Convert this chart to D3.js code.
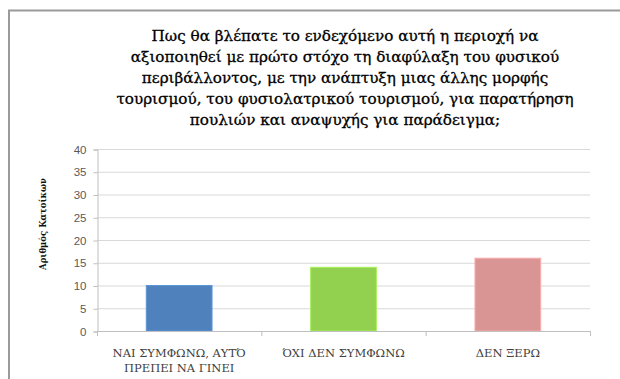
<!DOCTYPE html>
<html>
<head>
<meta charset="utf-8">
<script src="https://cdn.jsdelivr.net/npm/d3@7/dist/d3.min.js"></script>
<style>
  html, body { margin: 0; padding: 0; background: #fff; }
  svg { display: block; }
  .serif { font-family: "DejaVu Serif", serif; }
  .sans { font-family: "Liberation Sans", Arial, sans-serif; }
</style>
</head>
<body>
<svg id="chart" width="620" height="379"></svg>
<script>
// Survey answers: number of residents per response
const categories = [
  ["ΝΑΙ ΣΥΜΦΩΝΩ, ΑΥΤΌ", "ΠΡΕΠΕΙ ΝΑ ΓΙΝΕΙ"],
  ["ΌΧΙ ΔΕΝ ΣΥΜΦΩΝΩ"],
  ["ΔΕΝ ΞΕΡΩ"]
];
const values = [10, 14, 16];
const barColors = ["#4f81bd", "#92d050", "#d99594"];
const yTicks = [0, 5, 10, 15, 20, 25, 30, 35, 40];
const titleLines = [
  "Πως θα βλέπατε το ενδεχόμενο αυτή η περιοχή να",
  "αξιοποιηθεί με πρώτο στόχο τη διαφύλαξη του φυσικού",
  "περιβάλλοντος, με την ανάπτυξη μιας άλλης μορφής",
  "τουρισμού, του φυσιολατρικού τουρισμού, για παρατήρηση",
  "πουλιών και αναψυχής για παράδειγμα;"
];
const yTitle = "Αριθμός Κατοίκων";

const svg = d3.select("#chart");
const plot = { left: 97, right: 590, top: 149, bottom: 331 };

// Chart frame (only top and left edges fall inside the view)
svg.append("path")
  .attr("d", "M9,379 L9,10.5 L620,10.5")
  .attr("fill", "none")
  .attr("stroke", "#9a9a9a")
  .attr("stroke-width", 2);

const keys = categories.map((c, i) => i);
const x = d3.scaleBand()
  .domain(keys)
  .range([plot.left, plot.right])
  .paddingInner(0.6)
  .paddingOuter(0.3);
const y = d3.scaleLinear().domain([0, 40]).range([plot.bottom, plot.top]);

// Horizontal gridlines
svg.append("g")
  .selectAll("line")
  .data(yTicks.filter(d => d > 0))
  .join("line")
  .attr("x1", plot.left).attr("x2", plot.right)
  .attr("y1", d => y(d) + 0.5).attr("y2", d => y(d) + 0.5)
  .attr("stroke", "#d9d9d9");

// Y axis
const yAxis = svg.append("g")
  .attr("transform", `translate(${plot.left + 0.5},0.5)`)
  .call(d3.axisLeft(y).tickValues(yTicks).tickSize(4).tickPadding(7));
yAxis.attr("font-family", null);
yAxis.select(".domain").attr("stroke", "#bfbfbf");
yAxis.selectAll(".tick line").attr("stroke", "#bfbfbf");
yAxis.selectAll(".tick text")
  .attr("class", "sans")
  .attr("fill", "#595959")
  .style("font-size", "11.5px");

// Bars
svg.append("g")
  .selectAll("rect")
  .data(values)
  .join("rect")
  .attr("x", (d, i) => x(i))
  .attr("width", x.bandwidth())
  .attr("y", d => y(d))
  .attr("height", d => y(0) - y(d))
  .attr("fill", (d, i) => barColors[i])
  .attr("stroke", (d, i) => d3.color(barColors[i]).brighter(0.4))
  .attr("stroke-width", 1);

// X axis line and category separators
const step = x.step();
const xAxis = svg.append("g");
xAxis.append("line")
  .attr("x1", plot.left).attr("x2", plot.right)
  .attr("y1", plot.bottom + 0.5).attr("y2", plot.bottom + 0.5)
  .attr("stroke", "#bfbfbf");
xAxis.selectAll("line.sep")
  .data(d3.range(keys.length + 1))
  .join("line")
  .attr("class", "sep")
  .attr("x1", i => plot.left + i * step + 0.5)
  .attr("x2", i => plot.left + i * step + 0.5)
  .attr("y1", plot.bottom).attr("y2", plot.bottom + 5)
  .attr("stroke", "#bfbfbf");

// Category labels
const catText = svg.append("g")
  .selectAll("text")
  .data(categories)
  .join("text")
  .attr("class", "serif")
  .attr("x", (d, i) => x(i) + x.bandwidth() / 2)
  .attr("y", 357)
  .attr("text-anchor", "middle")
  .attr("fill", "#404040")
  .style("font-size", "11.5px");
catText.selectAll("tspan")
  .data(d => d)
  .join("tspan")
  .attr("x", function () { return d3.select(this.parentNode).attr("x"); })
  .attr("dy", (d, i) => i === 0 ? 0 : 15)
  .text(d => d);

// Y axis title
svg.append("text")
  .attr("class", "serif")
  .attr("transform", "translate(46,224) rotate(-90)")
  .attr("text-anchor", "middle")
  .style("font-weight", "bold")
  .style("font-size", "8.5px")
  .attr("fill", "#111")
  .text(yTitle);

// Chart title
svg.append("g")
  .selectAll("text")
  .data(titleLines)
  .join("text")
  .attr("class", "serif")
  .attr("x", 345)
  .attr("y", (d, i) => 41 + i * 21)
  .attr("text-anchor", "middle")
  .style("font-size", "15.2px")
  .attr("fill", "#000")
  .attr("stroke", "#000")
  .attr("stroke-width", 0.3)
  .text(d => d);
</script>
</body>
</html>
